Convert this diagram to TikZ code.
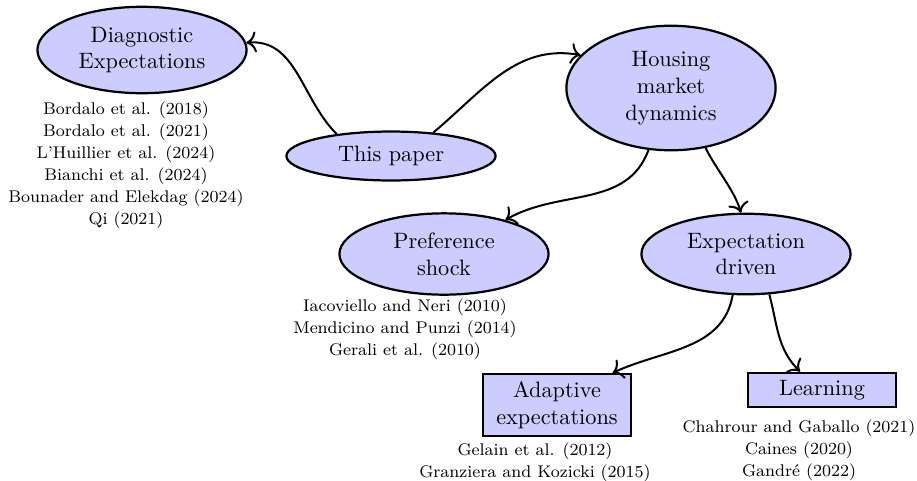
\documentclass[tikz,border=0pt]{standalone}
\usepackage{fontspec}
\usetikzlibrary{shapes.geometric, arrows.meta}
\tikzset{
  bub/.style={ellipse, draw, line width=1pt, fill=blue!20, text width=2.1cm, align=center},
  boxn/.style={rectangle, draw, line width=1pt, fill=blue!20, text width=2.1cm, align=center},
  citetxt/.style={font=\fontsize{7.6pt}{9.9pt}\selectfont, align=center},
  link/.style={line width=0.9pt, -{To[scale=1.25]}},
}
\begin{document}
\begin{tikzpicture}[x=0.449pt, y=-0.449pt]
\useasboundingbox (0,0) rectangle (917,480);
\node[bub] (diag) at (142,50) {Diagnostic\\Expectations};
\node[bub] (tp) at (391,156) {This paper};
\node[bub] (house) at (671,88) {Housing\\market\\dynamics};
\node[bub] (pref) at (444,254) {Preference\\shock};
\node[bub] (expd) at (746,254) {Expectation\\driven};
\node[boxn] (adapt) at (557,405) {Adaptive\\expectations};
\node[boxn] (learn) at (822,390) {Learning};
\node[citetxt] (cdiag) at (126,165) {Bordalo et al. (2018)\\Bordalo et al. (2021)\\L’Huillier et al. (2024)\\Bianchi et al. (2024)\\Bounader and Elekdag (2024)\\Qi (2021)};
\node[citetxt] (cpref) at (405,329) {Iacoviello and Neri (2010)\\Mendicino and Punzi (2014)\\Gerali et al. (2010)};
\node[citetxt] (cadapt) at (535,462) {Gelain et al. (2012)\\Granziera and Kozicki (2015)};
\node[citetxt] (clearn) at (799,450) {Chahrour and Gaballo (2021)\\Caines (2020)\\Gandré (2022)};
\draw[link] (tp.158) to[out=135,in=5] (diag.4);
\draw[link] (tp.29) to[out=40,in=170] (house.160);
\draw[link] (house.250) to[out=-110,in=30] (pref.29);
\draw[link] (house.-60) to[out=-64,in=106,looseness=0.8] (expd.97);
\draw[link] (expd.252) to[out=-100,in=25] (adapt.30);
\draw[link] (expd.-60) to[out=-75,in=135] (learn.140);
\end{tikzpicture}
\end{document}
